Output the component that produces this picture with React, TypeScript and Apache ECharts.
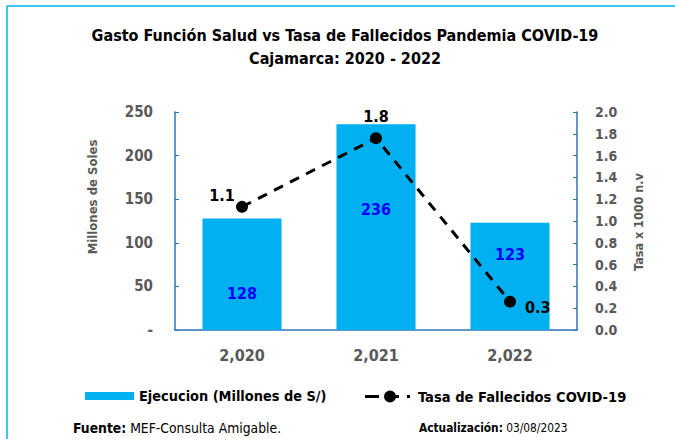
import React, { useEffect, useRef } from "react";
import * as echarts from "echarts";

const categories = ["2,020", "2,021", "2,022"];
const ejecucion = [128, 236, 123];
const tasa = [1.13, 1.76, 0.26];
const leftTicks = { min: 0, max: 250, interval: 50 };
const rightTicks = { min: 0, max: 2, interval: 0.2 };

const FONT = "'DejaVu Sans Condensed', 'DejaVu Sans', sans-serif";
const AXIS_BLUE = "#2E75B6";
const GRAY = "#595959";
const LINE_ICON =
  "path://M0,5H14V8H0Z M19,6.5A6,6 0 1,1 31,6.5A6,6 0 1,1 19,6.5Z M30,5H34V8H30Z M42,5H45V8H42Z M0,0H0.01V13H0Z M47.99,0H48V13H47.99Z";

export default function App() {
  const ref = useRef<HTMLDivElement>(null);
  useEffect(() => {
    document.body.style.margin = "0";
    if (!ref.current) return;
    const chart = echarts.init(ref.current, null, { renderer: "svg" });
    const barLabelOffsets = [[0, 19], [0, -18], [0, -22]];
    const lineLabelCfg = [
      { position: "top", offset: [-20, 8] },
      { position: "top", offset: [0, -3] },
      { position: "right", offset: [4, 6] },
    ];
    chart.setOption({
      animation: false,
      textStyle: { fontFamily: FONT },
      title: {
        text: "Gasto Función Salud vs Tasa de Fallecidos Pandemia COVID-19\nCajamarca: 2020 - 2022",
        left: 340,
        textAlign: "center",
        top: 19,
        textStyle: { fontFamily: FONT, fontWeight: "bold", fontSize: 16, color: "#000", lineHeight: 23 },
      },
      legend: [
        {
          left: 80,
          top: 384,
          itemWidth: 49,
          itemHeight: 8,
          textStyle: { fontFamily: FONT, fontWeight: "bold", fontSize: 14.4, color: "#000" },
          data: [{ name: "Ejecucion (Millones de S/)", icon: "rect" }],
        },
        {
          left: 360,
          top: 384,
          itemWidth: 48,
          itemHeight: 13,
          textStyle: { fontFamily: FONT, fontWeight: "bold", fontSize: 14.6, color: "#000" },
          data: [{ name: "Tasa de Fallecidos COVID-19", icon: LINE_ICON, itemStyle: { color: "#000", borderWidth: 0 } }],
        },
      ],
      grid: { left: 175, right: 98, top: 112, bottom: 109 },
      xAxis: {
        type: "category",
        data: categories,
        axisLine: { lineStyle: { color: AXIS_BLUE, width: 1.5 } },
        axisTick: { show: false },
        axisLabel: { fontFamily: FONT, fontWeight: "bold", fontSize: 16, color: GRAY, margin: 17 },
      },
      yAxis: [
        {
          type: "value",
          min: leftTicks.min,
          max: leftTicks.max,
          interval: leftTicks.interval,
          splitLine: { show: false },
          axisLine: { show: true, lineStyle: { color: AXIS_BLUE, width: 1.5 } },
          axisTick: { show: true, inside: true, length: 4, lineStyle: { color: AXIS_BLUE } },
          axisLabel: {
            fontFamily: FONT, fontWeight: "bold", fontSize: 15, color: GRAY, margin: 22,
            formatter: (v: number) => (v === 0 ? "-" : String(v)),
          },
        },
        {
          type: "value",
          min: rightTicks.min,
          max: rightTicks.max,
          interval: rightTicks.interval,
          splitLine: { show: false },
          axisLine: { show: true, lineStyle: { color: AXIS_BLUE, width: 1.5 } },
          axisTick: { show: true, inside: true, length: 4, lineStyle: { color: AXIS_BLUE } },
          axisLabel: {
            fontFamily: FONT, fontWeight: "bold", fontSize: 14, color: GRAY, margin: 18,
            formatter: (v: number) => v.toFixed(1),
          },
        },
      ],
      series: [
        {
          name: "Ejecucion (Millones de S/)",
          type: "bar",
          barWidth: "59%",
          itemStyle: { color: "#00B0F0" },
          data: ejecucion.map((v, i) => ({
            value: v,
            label: {
              show: true,
              position: "inside",
              offset: barLabelOffsets[i],
              color: "#0000FF",
              fontFamily: FONT,
              fontWeight: "bold",
              fontSize: 16,
            },
          })),
        },
        {
          name: "Tasa de Fallecidos COVID-19",
          type: "line",
          yAxisIndex: 1,
          symbol: "circle",
          symbolSize: 12,
          itemStyle: { color: "#000" },
          lineStyle: { color: "#000", width: 3, type: [10, 8] },
          data: tasa.map((v, i) => ({
            value: v,
            label: {
              show: true,
              position: lineLabelCfg[i].position,
              offset: lineLabelCfg[i].offset,
              color: "#000",
              fontFamily: FONT,
              fontWeight: "bold",
              fontSize: 16,
              formatter: (p: any) => Number(p.value).toFixed(1),
            },
          })),
        },
      ],
      graphic: [
        { type: "line", shape: { x1: 7, y1: 6, x2: 675, y2: 6 }, style: { stroke: "#00B0F0", lineWidth: 1.5 } },
        { type: "line", shape: { x1: 7, y1: 6, x2: 7, y2: 439 }, style: { stroke: "#00B0F0", lineWidth: 1.5 } },
        {
          type: "text", x: 92, y: 197, rotation: Math.PI / 2,
          style: { text: "Millones de Soles", fontFamily: FONT, fontWeight: "bold", fontSize: 13, fill: GRAY, align: "center", verticalAlign: "middle" },
        },
        {
          type: "text", x: 638, y: 222, rotation: Math.PI / 2,
          style: { text: "Tasa x 1000 n.v", fontFamily: FONT, fontWeight: "bold", fontSize: 12.5, fill: GRAY, align: "center", verticalAlign: "middle" },
        },
        {
          type: "text", x: 73, y: 428,
          style: {
            text: "{b|Fuente:} MEF-Consulta Amigable.",
            fontFamily: FONT, fontSize: 13.8, fill: "#000", verticalAlign: "middle",
            rich: { b: { fontFamily: FONT, fontWeight: "bold", fontSize: 13.8, fill: "#000" } },
          },
        },
        {
          type: "text", x: 419, y: 428,
          style: {
            text: "{b|Actualización:} 03/08/2023",
            fontFamily: FONT, fontSize: 11.8, fill: "#000", verticalAlign: "middle",
            rich: { b: { fontFamily: FONT, fontWeight: "bold", fontSize: 11.8, fill: "#000" } },
          },
        },
      ],
    });
    return () => chart.dispose();
  }, []);
  return <div ref={ref} style={{ width: 675, height: 439 }} />;
}
